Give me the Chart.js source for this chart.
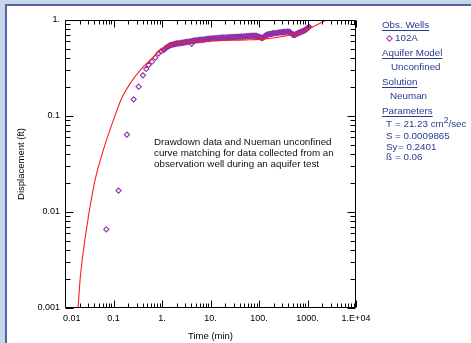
<!DOCTYPE html>
<html>
<head>
<meta charset="utf-8">
<script src="https://cdn.jsdelivr.net/npm/chart.js@4/dist/chart.umd.min.js"></script>
<style>
  html, body { margin:0; padding:0; }
  body { width:471px; height:343px; background:#c6d7ec; position:relative; overflow:hidden; font-family:"Liberation Sans", Arial, sans-serif; }
  #panel { position:absolute; left:5px; top:4px; right:0; bottom:0; background:#fff; border-left:2px solid #5a5ea8; border-top:2px solid #5a5ea8; }
  canvas { position:absolute; left:0; top:0; }
  .lg { position:absolute; font-size:9.8px; color:#2a3c8f; line-height:12px; white-space:pre; }
  .hd { text-decoration:underline; text-underline-offset:2px; }
  #note { position:absolute; left:154px; top:136px; font-size:9.8px; line-height:11px; color:#111; white-space:pre; }
  .dia { position:absolute; width:3px; height:3px; border:1px solid #a03cb4; transform:rotate(45deg); }
</style>
</head>
<body>
<div id="panel"></div>
<canvas id="c" width="471" height="343"></canvas>

<div class="lg hd" style="left:382px;top:19px;">Obs. Wells</div>
<div class="dia" style="left:387px;top:36px;"></div>
<div class="lg" style="left:395px;top:32px;">102A</div>
<div class="lg hd" style="left:382px;top:47px;">Aquifer Model</div>
<div class="lg" style="left:391px;top:61px;">Unconfined</div>
<div class="lg hd" style="left:382px;top:76px;">Solution</div>
<div class="lg" style="left:390px;top:90px;">Neuman</div>
<div class="lg hd" style="left:382px;top:105px;">Parameters</div>
<div class="lg" style="left:386px;top:118px;">T</div><div class="lg" style="left:395px;top:118px;">= 21.23 cm<sup style="font-size:8.5px;vertical-align:4px;line-height:0">2</sup>/sec</div>
<div class="lg" style="left:386px;top:130px;">S</div><div class="lg" style="left:395px;top:130px;">= 0.0009865</div>
<div class="lg" style="left:386px;top:141px;">Sy</div><div class="lg" style="left:398px;top:141px;">= 0.2401</div>
<div class="lg" style="left:386px;top:151px;">ß</div><div class="lg" style="left:395px;top:151px;">= 0.06</div>

<div id="note">Drawdown data and Nueman unconfined
curve matching for data collected from an
observation well during an aquifer test</div>

<script>
// ---- data ----
const obsTime = [0.071, 0.127, 0.189, 0.26, 0.33, 0.405, 0.475, 0.53, 0.62, 0.73, 0.85, 0.95,
  1.08, 1.14, 1.2, 1.27, 1.35, 1.42, 1.5, 1.6, 1.7, 1.8, 1.9, 2.0, 2.1, 2.25, 2.4, 2.55, 2.7, 2.85, 3.0, 3.2, 3.4, 3.65, 3.9, 4.1, 4.2, 4.4, 4.7,
  5.0, 5.3, 5.6, 5.95, 6.3, 6.7, 7.1, 7.5, 8.0, 8.5, 9.0, 9.5, 10, 10.7, 11.5, 12.2, 13, 14, 15, 16, 17, 18, 19, 20.5, 22, 23.5, 25, 26.5, 28,
  30, 32, 34, 36, 38.5, 41, 43.5, 46, 49, 52, 55, 59, 62, 66, 70, 75, 79, 84, 89, 95, 101, 107, 112, 118, 124, 130, 137, 145, 152, 160, 170,
  180, 190, 200, 212, 225, 240, 255, 270, 285, 300, 320, 340, 360, 380, 400, 420, 440, 465, 490, 507, 525, 542, 560, 585, 610, 640, 670, 700,
  730, 765, 800, 835, 870, 905, 940, 975, 1010, 1045, 1080];
const obsDisp = [0.0066, 0.0167, 0.064, 0.149, 0.202, 0.265, 0.309, 0.34, 0.368, 0.405, 0.45, 0.47,
  0.487, 0.50, 0.51, 0.522, 0.53, 0.54, 0.548, 0.552, 0.556, 0.562, 0.563, 0.57, 0.568, 0.575, 0.572, 0.58, 0.578, 0.586, 0.584, 0.592, 0.59, 0.597, 0.598, 0.565, 0.604, 0.605, 0.612,
  0.61, 0.618, 0.612, 0.622, 0.619, 0.626, 0.622, 0.63, 0.628, 0.635, 0.632, 0.64, 0.636, 0.645, 0.64, 0.648, 0.645, 0.652, 0.648, 0.655, 0.65, 0.658, 0.652, 0.66, 0.655, 0.662, 0.657, 0.665, 0.66,
  0.667, 0.662, 0.669, 0.664, 0.672, 0.666, 0.674, 0.668, 0.676, 0.67, 0.68, 0.675, 0.684, 0.678, 0.686, 0.68, 0.688, 0.682, 0.684, 0.675, 0.668, 0.66, 0.652, 0.648, 0.662, 0.675, 0.69, 0.7, 0.708, 0.71, 0.716,
  0.718, 0.724, 0.725, 0.73, 0.73, 0.736, 0.737, 0.742, 0.742, 0.748, 0.747, 0.754, 0.752, 0.758, 0.756, 0.752, 0.745, 0.725, 0.71, 0.702, 0.698, 0.7, 0.705, 0.712, 0.72, 0.728, 0.737, 0.744,
  0.75, 0.758, 0.765, 0.772, 0.78, 0.79, 0.8, 0.812, 0.825, 0.838, 0.85];
const curveTime = [0.0186, 0.0205, 0.024, 0.0285, 0.0318, 0.042, 0.062, 0.1, 0.142, 0.222, 0.357, 0.575, 0.927, 1.49, 2.4, 3.87, 10, 30, 67.5, 150, 282, 575, 1000, 1500, 2415, 5000];
const curveDisp = [0.001, 0.002, 0.004, 0.00724, 0.01035, 0.0219, 0.0447, 0.091, 0.147, 0.219, 0.301, 0.383, 0.487, 0.55, 0.578, 0.594, 0.607, 0.615, 0.622, 0.64, 0.67, 0.715, 0.79, 0.88, 1.0, 1.22];
const xTickValues = [0.01, 0.1, 1, 10, 100, 1000, 10000];
const xTickLabels = ['0.01', '0.1', '1.', '10.', '100.', '1000.', '1.E+04'];
const yTickValues = [0.001, 0.01, 0.1, 1];
const yTickLabels = ['0.001', '0.01', '0.1', '1.'];

const FONT = '"Liberation Sans", Arial, sans-serif';

function isDecade(v){ const l = Math.log10(v); return Math.abs(l - Math.round(l)) < 1e-9; }

const frame = {
  id: 'frame',
  afterDatasetsDraw(chart){
    const {ctx, chartArea:{left,right,top,bottom}, scales:{x,y}} = chart;
    ctx.save();
    ctx.strokeStyle = '#000';
    ctx.lineWidth = 1;
    const L = Math.round(left)+0.5, R = Math.round(right)-0.5, T = Math.round(top)+0.5, B = Math.round(bottom)-0.5;
    ctx.beginPath();
    ctx.rect(L, T, R-L, B-T);
    for (let e = Math.round(Math.log10(x.min)); e <= Math.round(Math.log10(x.max)); e++) {
      for (let m = 1; m <= 9; m++) {
        const v = m * Math.pow(10, e);
        if (v < x.min*0.999 || v > x.max*1.001) continue;
        const px = Math.round(x.getPixelForValue(v)) + 0.5;
        const len = m === 1 ? 7 : 4;
        ctx.moveTo(px, B); ctx.lineTo(px, B - len);
        ctx.moveTo(px, T); ctx.lineTo(px, T + len);
      }
    }
    for (let e = Math.round(Math.log10(y.min)); e <= Math.round(Math.log10(y.max)); e++) {
      for (let m = 1; m <= 9; m++) {
        const v = m * Math.pow(10, e);
        if (v < y.min*0.999 || v > y.max*1.001) continue;
        const py = Math.round(y.getPixelForValue(v)) + 0.5;
        const len = m === 1 ? 8 : 5;
        ctx.moveTo(L, py); ctx.lineTo(L + len, py);
        ctx.moveTo(R, py); ctx.lineTo(R - len, py);
      }
    }
    ctx.stroke();
    ctx.fillStyle = '#000';
    ctx.font = '9px ' + FONT;
    ctx.textBaseline = 'middle';
    xTickValues.forEach((v, i) => {
      const px = x.getPixelForValue(v);
      if (i === 0) { ctx.textAlign = 'left'; ctx.fillText(xTickLabels[i], px - 2, bottom + 11); }
      else { ctx.textAlign = 'center'; ctx.fillText(xTickLabels[i], px, bottom + 11); }
    });
    ctx.restore();
  }
};

new Chart(document.getElementById('c'), {
  type: 'scatter',
  data: {
    datasets: [
      {
        label: 'Neuman curve',
        data: curveTime.map((t, i) => ({x: t, y: curveDisp[i]})),
        showLine: true,
        borderColor: '#ff1e1e',
        borderWidth: 1.1,
        pointRadius: 0,
        cubicInterpolationMode: 'monotone',
        order: 0
      },
      {
        label: '102A',
        data: obsTime.map((t, i) => ({x: t, y: obsDisp[i]})),
        showLine: false,
        pointStyle: 'rectRot',
        pointRadius: 2.6,
        borderColor: '#9030a6',
        backgroundColor: 'rgba(255,255,255,0)',
        pointBorderWidth: 1.1,
        order: 1
      }
    ]
  },
  options: {
    responsive: false,
    animation: false,
    devicePixelRatio: 1,
    layout: { padding: { left: 0, top: 20, right: 115, bottom: 0 } },
    plugins: { legend: { display: false }, tooltip: { enabled: false } },
    scales: {
      x: {
        type: 'logarithmic',
        min: 0.01, max: 10000,
        grid: { display: false },
        border: { display: false },
        ticks: { display: false },
        title: { display: true, text: 'Time (min)', color: '#000', font: { family: FONT, size: 9.5 }, padding: { top: 0, bottom: 1 } },
        afterFit(s){ s.height = 35; }
      },
      y: {
        type: 'logarithmic',
        min: 0.001, max: 1,
        grid: { display: false, drawTicks: false },
        border: { display: false },
        ticks: {
          autoSkip: false, padding: 5, color: '#000',
          font: { family: FONT, size: 9 },
          callback(v){
            if (!isDecade(v)) return '';
            const idx = yTickValues.findIndex(t => Math.abs(Math.log10(t) - Math.log10(v)) < 1e-6);
            return idx >= 0 ? yTickLabels[idx] : '';
          }
        },
        title: { display: true, text: 'Displacement (ft)', color: '#000', font: { family: FONT, size: 9.5 }, padding: { top: 16, bottom: 0 } },
        afterFit(s){ s.width = 65; }
      }
    }
  },
  plugins: [frame]
});
</script>
</body>
</html>
